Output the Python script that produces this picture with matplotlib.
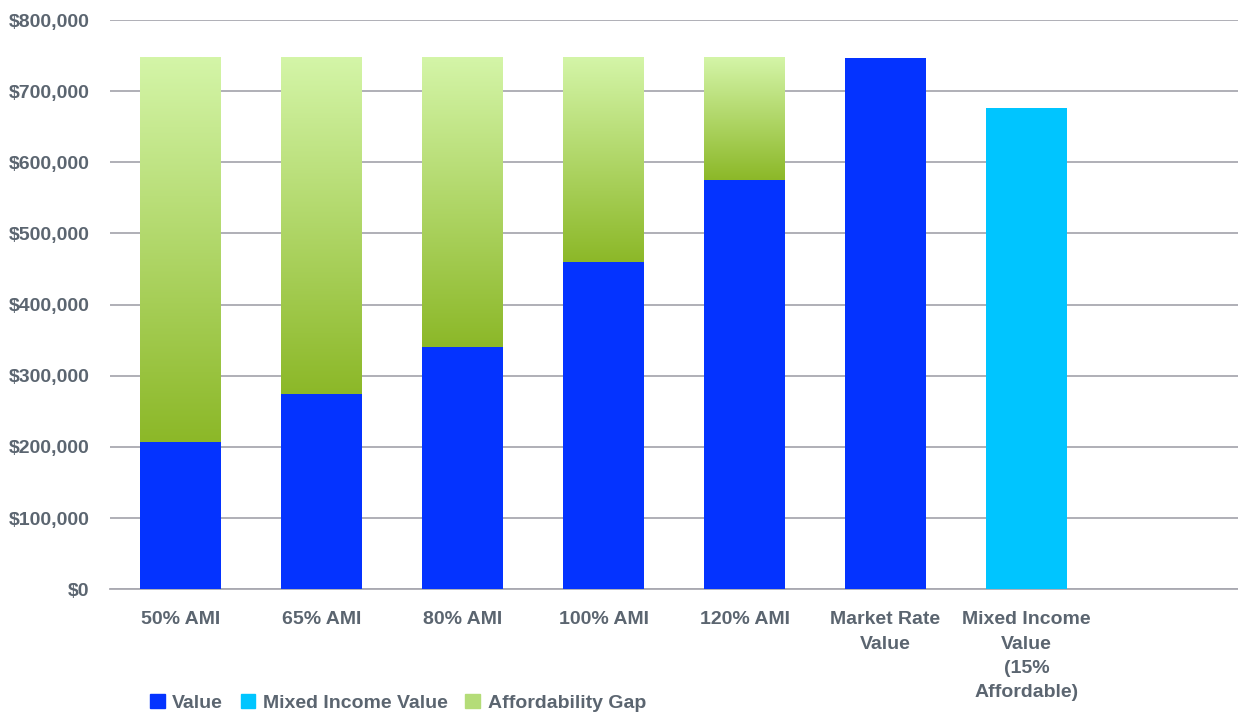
import numpy as np
import matplotlib.pyplot as plt
from matplotlib.colors import LinearSegmentedColormap
from matplotlib.patches import Patch
from matplotlib.ticker import FuncFormatter

plt.rcParams['font.family'] = ['Liberation Sans Narrow', 'Liberation Sans', 'DejaVu Sans']

# data
categories = ['50% AMI', '65% AMI', '80% AMI', '100% AMI', '120% AMI',
              'Market Rate\nValue', 'Mixed Income\nValue\n(15%\nAffordable)', '']
value = [207000, 274000, 340000, 460000, 575000, 747000, 0, 0]
mixed_income = [0, 0, 0, 0, 0, 0, 677000, 0]
gap = [540000, 473000, 407000, 287000, 172000, 0, 0, 0]

text_col = '#5b6570'
blue = '#0433ff'
cyan = '#00c5ff'
green_cmap = LinearSegmentedColormap.from_list('gap', ['#8cb828', '#d4f5a8'])

fig = plt.figure(figsize=(12.38, 7.15), dpi=100)
ax = fig.add_axes([0.089, 0.176, 0.911, 0.796])

x = np.arange(len(categories))
w = 0.57
ax.bar(x, value, width=w, color=blue, zorder=3)
ax.bar(x, mixed_income, width=w, color=cyan, zorder=3)

# gradient for the affordability gap segments
grad = np.linspace(0, 1, 256).reshape(-1, 1)
for xi, b, g in zip(x, value, gap):
    if g > 0:
        ax.imshow(grad, cmap=green_cmap, origin='lower', aspect='auto',
                  extent=[xi - w / 2, xi + w / 2, b, b + g], zorder=3)

ax.set_xlim(-0.5, len(categories) - 0.5)
ax.set_ylim(0, 800000)
ax.set_yticks(np.arange(0, 800001, 100000))
ax.yaxis.set_major_formatter(FuncFormatter(lambda v, p: '${:,.0f}'.format(v)))
ax.set_xticks(x)
ax.set_xticklabels(categories)
ax.grid(axis='y', color='#a9a9b1', linewidth=1.3, zorder=0)
for s in ['top', 'right', 'left']:
    ax.spines[s].set_visible(False)
ax.spines['bottom'].set_color('#a9a9b1')
ax.spines['bottom'].set_linewidth(1.3)
ax.tick_params(length=0, colors=text_col, labelsize=14)
ax.tick_params(axis='x', pad=16)
ax.tick_params(axis='y', pad=15)
for lbl in ax.get_xticklabels() + ax.get_yticklabels():
    lbl.set_fontweight('bold')
    lbl.set_color(text_col)
for lbl in ax.get_xticklabels():
    lbl.set_verticalalignment('top')
    lbl.set_linespacing(1.55)

handles = [Patch(color=blue), Patch(color=cyan), Patch(color='#b4dc78')]
leg = fig.legend(handles, ['Value', 'Mixed Income Value', 'Affordability Gap'],
                 loc='lower left', bbox_to_anchor=(0.107, -0.02), ncol=3, frameon=False,
                 handlelength=0.75, handleheight=0.75, handletextpad=0.4,
                 columnspacing=0.9, prop={'weight': 'bold', 'size': 14})
for t in leg.get_texts():
    t.set_color(text_col)

fig.savefig('out.png', dpi=100)
